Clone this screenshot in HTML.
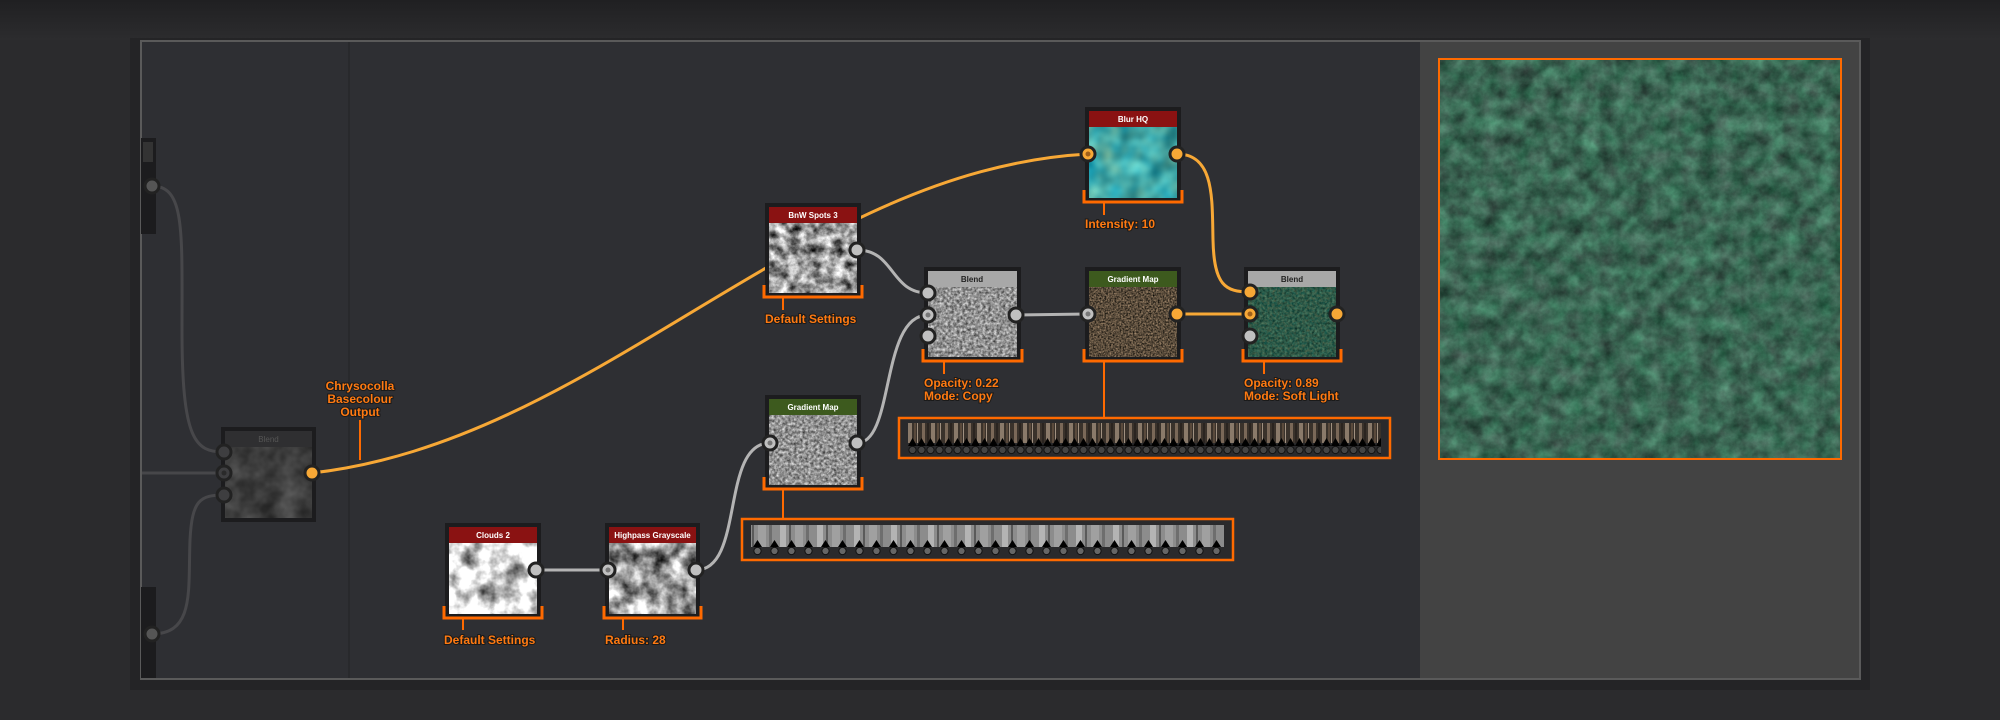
<!DOCTYPE html>
<html><head><meta charset="utf-8"><style>
html,body{margin:0;padding:0;background:#2a2a2c;width:2000px;height:720px;overflow:hidden}
svg{display:block}
text{font-family:"Liberation Sans",sans-serif}
.lbl{fill:#ff7a12;font-size:12px;font-weight:bold;paint-order:stroke;stroke:#1a1a1a;stroke-width:2px}
.ttl{fill:#fff;font-size:8px;font-weight:bold}
filter{color-interpolation-filters:sRGB}
</style></head><body>
<svg width="2000" height="720" viewBox="0 0 2000 720" xmlns="http://www.w3.org/2000/svg">
<defs>
<linearGradient id="bgtop" x1="0" y1="0" x2="0" y2="1"><stop offset="0" stop-color="#202022"/><stop offset="1" stop-color="#2c2c2e"/></linearGradient>
<filter id="fClouds" x="0" y="0" width="100%" height="100%" color-interpolation-filters="sRGB"><feTurbulence type="fractalNoise" baseFrequency="0.05" numOctaves="4" seed="3"/><feColorMatrix values="1.8 0 0 0 -0.05  1.8 0 0 0 -0.05  1.8 0 0 0 -0.05  0 0 0 0 1"/></filter>
<filter id="fHigh" x="0" y="0" width="100%" height="100%" color-interpolation-filters="sRGB"><feTurbulence type="fractalNoise" baseFrequency="0.06" numOctaves="4" seed="3"/><feColorMatrix values="1.6 0 0 0 -0.2  1.6 0 0 0 -0.2  1.6 0 0 0 -0.2  0 0 0 0 1"/></filter>
<filter id="fSpots" x="0" y="0" width="100%" height="100%" color-interpolation-filters="sRGB"><feTurbulence type="fractalNoise" baseFrequency="0.09" numOctaves="5" seed="7"/><feColorMatrix values="1.6 0 0 0 -0.2  1.6 0 0 0 -0.2  1.6 0 0 0 -0.2  0 0 0 0 1"/></filter>
<filter id="fGray" x="0" y="0" width="100%" height="100%" color-interpolation-filters="sRGB"><feTurbulence type="fractalNoise" baseFrequency="0.35" numOctaves="3" seed="2"/><feColorMatrix values="0.9 0 0 0 0.12  0.9 0 0 0 0.12  0.9 0 0 0 0.12  0 0 0 0 1"/></filter>
<filter id="fBrown" x="0" y="0" width="100%" height="100%" color-interpolation-filters="sRGB"><feTurbulence type="fractalNoise" baseFrequency="0.6" numOctaves="2" seed="4"/><feColorMatrix values="0.9 0 0 0 -0.1  0.75 0 0 0 -0.08  0.6 0 0 0 -0.07  0 0 0 0 1"/></filter>
<filter id="fTeal" x="0" y="0" width="100%" height="100%" color-interpolation-filters="sRGB"><feTurbulence type="fractalNoise" baseFrequency="0.05" numOctaves="2" seed="9"/><feColorMatrix values="0.6 0 0 0 -0.05  0.5 0.3 0 0 0.25  0.3 0.4 0 0 0.3  0 0 0 0 1"/></filter>
<filter id="fGreen" x="0" y="0" width="100%" height="100%" color-interpolation-filters="sRGB"><feTurbulence type="fractalNoise" baseFrequency="0.4" numOctaves="3" seed="5"/><feColorMatrix values="0.4 0 0 0 -0.02  0.3 0.2 0 0 0.1  0.2 0.2 0 0 0.08  0 0 0 0 1"/></filter>
<filter id="fBig" x="0" y="0" width="100%" height="100%" color-interpolation-filters="sRGB"><feTurbulence type="fractalNoise" baseFrequency="0.06" numOctaves="6" seed="11"/><feColorMatrix values="0.3 0 0 0 0.08  0.4 0.2 0 0 0.1  0.35 0.1 0 0 0.1  0 0 0 0 1"/></filter>
<filter id="fDim" x="0" y="0" width="100%" height="100%" color-interpolation-filters="sRGB"><feTurbulence type="fractalNoise" baseFrequency="0.05" numOctaves="3" seed="1"/><feColorMatrix values="0.3 0 0 0 0.09  0.3 0 0 0 0.09  0.3 0 0 0 0.09  0 0 0 0 1"/></filter>
<pattern id="pBrown" width="23" height="40" patternUnits="userSpaceOnUse"><rect width="23" height="40" fill="#3a322b"/><rect x="2" width="3" height="40" fill="#7a6858"/><rect x="7" width="2" height="40" fill="#2a2420"/><rect x="11" width="4" height="40" fill="#8a7a6a"/><rect x="17" width="2" height="40" fill="#5a4a3c"/><rect x="20" width="1" height="40" fill="#a09080"/></pattern>
<pattern id="pGray" width="37" height="40" patternUnits="userSpaceOnUse"><rect width="37" height="40" fill="#8c8c8c"/><rect x="3" width="6" height="40" fill="#b4b4b4"/><rect x="12" width="2" height="40" fill="#5a5a5a"/><rect x="18" width="8" height="40" fill="#a0a0a0"/><rect x="29" width="3" height="40" fill="#6e6e6e"/></pattern>
<pattern id="pTri" width="9" height="20" patternUnits="userSpaceOnUse" x="908" y="436"><path d="M0,10 L4.5,2 L9,10 Z" fill="#000"/><circle cx="4.5" cy="14" r="3.6" fill="#444" stroke="#111" stroke-width="1"/></pattern>
<pattern id="pTri2" width="17" height="20" patternUnits="userSpaceOnUse" x="751" y="537"><path d="M2,10 L6.5,3 L11,10 Z" fill="#000"/><circle cx="6.5" cy="14" r="3.6" fill="#666" stroke="#111" stroke-width="1"/></pattern>
</defs>
<rect width="2000" height="720" fill="#2b2b2d"/>
<rect width="2000" height="40" fill="url(#bgtop)"/>
<rect x="130" y="38" width="1740" height="652" fill="#1f1f21" opacity="0.6"/>
<rect x="141" y="41" width="1719" height="638" fill="#2e2f33" stroke="#5a5a5a" stroke-width="2"/>
<line x1="349" y1="42" x2="349" y2="678" stroke="#232325" stroke-width="1"/>
<rect x="1420" y="42" width="439" height="636" fill="#434343"/>
<rect x="1439" y="59" width="402" height="400" fill="#1e3a3a" filter="url(#fBig)"/>
<rect x="1439" y="59" width="402" height="400" fill="none" stroke="#ff6a00" stroke-width="2"/>

<rect x="141" y="138" width="15" height="96" fill="#1c1c1e"/>
<rect x="143" y="142" width="10" height="20" fill="#333"/>
<rect x="141" y="587" width="15" height="91" fill="#1c1c1e"/>
<path d="M152,186 C185,186 182,230 182,330 C182,440 195,452 224,452" fill="none" stroke="#47474a" stroke-width="3"/>
<path d="M142,473 L224,473" stroke="#47474a" stroke-width="3"/>
<path d="M152,634 C195,634 188,590 190,540 C192,500 200,495 224,495" fill="none" stroke="#47474a" stroke-width="3"/>
<circle cx="152" cy="186" r="7" fill="#555" stroke="#222" stroke-width="3"/>
<circle cx="152" cy="634" r="7" fill="#555" stroke="#222" stroke-width="3"/>

<rect x="221" y="427" width="95" height="95" fill="#1c1c1e"/>
<rect x="225" y="431" width="87" height="16" fill="#2f2f31"/>
<text x="268.5" y="442" text-anchor="middle" font-size="8" fill="#555">Blend</text>
<rect x="225" y="447" width="87" height="71" filter="url(#fDim)"/>
<circle cx="224" cy="452" r="7" fill="#3e3e40" stroke="#222" stroke-width="3"/>
<circle cx="224" cy="473" r="7" fill="#3e3e40" stroke="#222" stroke-width="3"/>
<circle cx="224" cy="473" r="2.5" fill="#2a2a2a"/>
<circle cx="224" cy="495" r="7" fill="#3e3e40" stroke="#222" stroke-width="3"/>

<path d="M312,473 C600,440 800,170 1088,154" fill="none" stroke="#f7a836" stroke-width="3"/>
<path d="M857,250 C895,250 890,293 928,293" fill="none" stroke="#b4b4b4" stroke-width="3"/>
<path d="M857,443 C895,443 880,315 928,315" fill="none" stroke="#b4b4b4" stroke-width="3"/>
<path d="M1016,315 L1088,314" fill="none" stroke="#b4b4b4" stroke-width="3"/>
<path d="M536,570 L608,570" fill="none" stroke="#b4b4b4" stroke-width="3"/>
<path d="M696,570 C745,570 720,443 770,443" fill="none" stroke="#b4b4b4" stroke-width="3"/>
<path d="M1177,314 L1250,314" fill="none" stroke="#f7a836" stroke-width="3"/>
<path d="M1177,154 C1215,154 1212,200 1213,240 C1214,285 1225,292 1250,292" fill="none" stroke="#f7a836" stroke-width="3"/>

<text class="lbl" x="360" y="390" text-anchor="middle">Chrysocolla</text>
<text class="lbl" x="360" y="403" text-anchor="middle">Basecolour</text>
<text class="lbl" x="360" y="416" text-anchor="middle">Output</text>
<line x1="360" y1="420" x2="360" y2="460" stroke="#ff6a00" stroke-width="2"/>

<rect x="445" y="523" width="96" height="95" fill="#1c1c1e"/>
<rect x="449" y="527" width="88" height="16" fill="#8a1212"/>
<text class="ttl" x="493" y="538" text-anchor="middle">Clouds 2</text>
<rect x="449" y="543" width="88" height="71" filter="url(#fClouds)"/>
<path d="M444,606 V618 H542 V606" fill="none" stroke="#ff6a00" stroke-width="3"/>
<line x1="463" y1="618" x2="463" y2="630" stroke="#ff6a00" stroke-width="2"/>
<text class="lbl" x="444" y="644">Default Settings</text>
<rect x="605" y="523" width="95" height="95" fill="#1c1c1e"/>
<rect x="609" y="527" width="87" height="16" fill="#8a1212"/>
<text class="ttl" x="652.5" y="538" text-anchor="middle">Highpass Grayscale</text>
<rect x="609" y="543" width="87" height="71" filter="url(#fHigh)"/>
<path d="M604,606 V618 H701 V606" fill="none" stroke="#ff6a00" stroke-width="3"/>
<line x1="623" y1="618" x2="623" y2="630" stroke="#ff6a00" stroke-width="2"/>
<text class="lbl" x="605" y="644">Radius: 28</text>
<circle cx="536" cy="570" r="7" fill="#c0c0c0" stroke="#222" stroke-width="3"/>
<circle cx="608" cy="570" r="7" fill="#c0c0c0" stroke="#222" stroke-width="3"/><circle cx="608" cy="570" r="2.5" fill="#777"/>
<circle cx="696" cy="570" r="7" fill="#c0c0c0" stroke="#222" stroke-width="3"/>

<rect x="765" y="203" width="96" height="94" fill="#1c1c1e"/>
<rect x="769" y="207" width="88" height="16" fill="#8a1212"/>
<text class="ttl" x="813" y="218" text-anchor="middle">BnW Spots 3</text>
<rect x="769" y="223" width="88" height="70" filter="url(#fSpots)"/>
<path d="M764,285 V297 H862 V285" fill="none" stroke="#ff6a00" stroke-width="3"/>
<line x1="783" y1="297" x2="783" y2="310" stroke="#ff6a00" stroke-width="2"/>
<text class="lbl" x="765" y="323">Default Settings</text>
<circle cx="857" cy="250" r="7" fill="#c0c0c0" stroke="#222" stroke-width="3"/>

<rect x="765" y="395" width="96" height="94" fill="#1c1c1e"/>
<rect x="769" y="399" width="88" height="16" fill="#3d5a1e"/>
<text class="ttl" x="813" y="410" text-anchor="middle">Gradient Map</text>
<rect x="769" y="415" width="88" height="70" filter="url(#fGray)"/>
<path d="M764,477 V489 H862 V477" fill="none" stroke="#ff6a00" stroke-width="3"/>
<line x1="783" y1="489" x2="783" y2="519" stroke="#ff6a00" stroke-width="2"/>
<circle cx="770" cy="443" r="7" fill="#c0c0c0" stroke="#222" stroke-width="3"/><circle cx="770" cy="443" r="2.5" fill="#777"/>
<circle cx="857" cy="443" r="7" fill="#c0c0c0" stroke="#222" stroke-width="3"/>
<rect x="742" y="519" width="491" height="41" fill="#2a2a2c" stroke="#ff6a00" stroke-width="2.5"/>
<rect x="751" y="525" width="473" height="22" fill="url(#pGray)"/>
<rect x="751" y="537" width="473" height="20" fill="url(#pTri2)"/>

<rect x="924" y="267" width="97" height="94" fill="#1c1c1e"/>
<rect x="928" y="271" width="89" height="16" fill="#a8a8a8"/>
<text x="972" y="282" text-anchor="middle" font-size="8" font-weight="bold" fill="#222">Blend</text>
<rect x="928" y="287" width="89" height="70" filter="url(#fGray)"/>
<path d="M923,349 V361 H1022 V349" fill="none" stroke="#ff6a00" stroke-width="3"/>
<line x1="944" y1="361" x2="944" y2="374" stroke="#ff6a00" stroke-width="2"/>
<text class="lbl" x="924" y="387">Opacity: 0.22</text>
<text class="lbl" x="924" y="400">Mode: Copy</text>
<circle cx="928" cy="293" r="7" fill="#c0c0c0" stroke="#222" stroke-width="3"/>
<circle cx="928" cy="315" r="7" fill="#c0c0c0" stroke="#222" stroke-width="3"/><circle cx="928" cy="315" r="2.5" fill="#777"/>
<circle cx="928" cy="336" r="7" fill="#c0c0c0" stroke="#222" stroke-width="3"/>
<circle cx="1016" cy="315" r="7" fill="#c0c0c0" stroke="#222" stroke-width="3"/>

<rect x="1085" y="107" width="96" height="95" fill="#1c1c1e"/>
<rect x="1089" y="111" width="88" height="16" fill="#8a1212"/>
<text class="ttl" x="1133" y="122" text-anchor="middle">Blur HQ</text>
<rect x="1089" y="127" width="88" height="71" filter="url(#fTeal)"/>
<path d="M1084,190 V202 H1182 V190" fill="none" stroke="#ff6a00" stroke-width="3"/>
<line x1="1104" y1="202" x2="1104" y2="215" stroke="#ff6a00" stroke-width="2"/>
<text class="lbl" x="1085" y="228">Intensity: 10</text>
<circle cx="1088" cy="154" r="7" fill="#f7a836" stroke="#222" stroke-width="3"/><circle cx="1088" cy="154" r="2.5" fill="#a0601a"/>
<circle cx="1177" cy="154" r="7" fill="#f7a836" stroke="#222" stroke-width="3"/>

<rect x="1085" y="267" width="96" height="94" fill="#1c1c1e"/>
<rect x="1089" y="271" width="88" height="16" fill="#3d5a1e"/>
<text class="ttl" x="1133" y="282" text-anchor="middle">Gradient Map</text>
<rect x="1089" y="287" width="88" height="70" filter="url(#fBrown)"/>
<path d="M1084,349 V361 H1182 V349" fill="none" stroke="#ff6a00" stroke-width="3"/>
<line x1="1104" y1="361" x2="1104" y2="418" stroke="#ff6a00" stroke-width="2"/>
<circle cx="1088" cy="314" r="7" fill="#c0c0c0" stroke="#222" stroke-width="3"/><circle cx="1088" cy="314" r="2.5" fill="#777"/>
<circle cx="1177" cy="314" r="7" fill="#f7a836" stroke="#222" stroke-width="3"/>
<rect x="899" y="418" width="491" height="40" fill="#2a2a2c" stroke="#ff6a00" stroke-width="2.5"/>
<rect x="908" y="423" width="473" height="20" fill="url(#pBrown)"/>
<rect x="908" y="436" width="473" height="20" fill="url(#pTri)"/>

<rect x="1244" y="267" width="96" height="94" fill="#1c1c1e"/>
<rect x="1248" y="271" width="88" height="16" fill="#a8a8a8"/>
<text x="1292" y="282" text-anchor="middle" font-size="8" font-weight="bold" fill="#222">Blend</text>
<rect x="1248" y="287" width="88" height="70" filter="url(#fGreen)"/>
<path d="M1243,349 V361 H1341 V349" fill="none" stroke="#ff6a00" stroke-width="3"/>
<line x1="1264" y1="361" x2="1264" y2="374" stroke="#ff6a00" stroke-width="2"/>
<text class="lbl" x="1244" y="387">Opacity: 0.89</text>
<text class="lbl" x="1244" y="400">Mode: Soft Light</text>
<circle cx="1250" cy="292" r="7" fill="#f7a836" stroke="#222" stroke-width="3"/>
<circle cx="1250" cy="314" r="7" fill="#f7a836" stroke="#222" stroke-width="3"/><circle cx="1250" cy="314" r="2.5" fill="#a0601a"/>
<circle cx="1250" cy="336" r="7" fill="#c0c0c0" stroke="#222" stroke-width="3"/>
<circle cx="1337" cy="314" r="7" fill="#f7a836" stroke="#222" stroke-width="3"/>

<circle cx="312" cy="473" r="7" fill="#f7a836" stroke="#222" stroke-width="3"/>
</svg>
</body></html>
